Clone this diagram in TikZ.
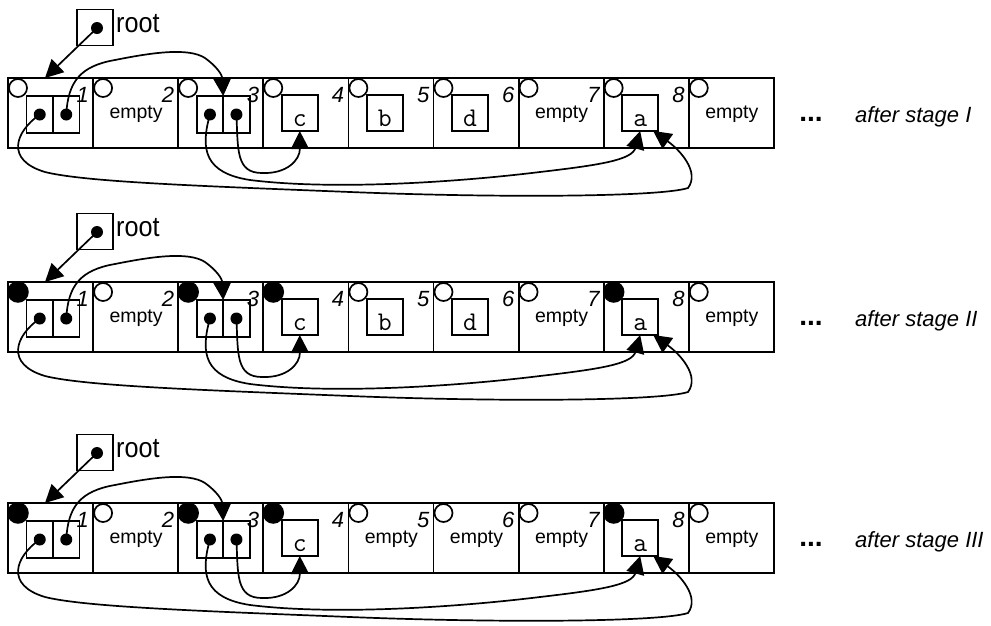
\documentclass[tikz,border=0pt]{standalone}
\usepackage{fontspec}
\usepackage{graphicx}
\setmainfont{Liberation Sans}
\usetikzlibrary{arrows.meta,calc}
\tikzset{
  cellbox/.style={draw, line width=1.8pt, minimum width=85.1pt, minimum height=70pt, inner sep=0pt, outer sep=0pt},
  opencirc/.style={circle, draw, fill=white, line width=1.7pt, minimum size=18pt, inner sep=0pt},
  fullcirc/.style={circle, draw, fill=black, line width=1.5pt, minimum size=20pt, inner sep=0pt},
  halfbox/.style={draw, line width=1.8pt, minimum width=26.5pt, minimum height=37pt, inner sep=0pt, outer sep=0pt},
  valbox/.style={draw, line width=1.8pt, minimum width=36pt, minimum height=36pt, inner sep=0pt, outer sep=0pt},
  valtxt/.style={font=\ttfamily\fontsize{27}{27}\selectfont, anchor=base, inner sep=0pt},
  ptdot/.style={circle, fill=black, minimum size=12pt, inner sep=0pt},
  emptytxt/.style={font=\fontsize{19.5}{19.5}\selectfont, anchor=base, inner sep=0pt},
  numtxt/.style={font=\itshape\fontsize{22}{22}\selectfont, anchor=base east, inner sep=0pt},
  roottxt/.style={font=\fontsize{28}{28}\selectfont, anchor=base west, inner sep=0pt},
  stagetxt/.style={font=\itshape\fontsize{22}{22}\selectfont, anchor=base west, inner sep=0pt},
  dotstxt/.style={font=\bfseries\fontsize{28}{28}\selectfont, anchor=base, inner sep=0pt},
  arr/.style={line width=1.7pt, -{Triangle[length=18pt,width=18pt]}},
}
\newcommand\valcell[2]{%
  \node[valbox] (\rp v#1) at ({8+85.1*(#1-1)+36.5},113) {};
  \node[valtxt] (\rp t#1) at ({8+85.1*(#1-1)+36.5},126) {#2};}
\newcommand\emptycell[1]{%
  \node[emptytxt] (\rp e#1) at ({8+85.1*(#1-1)+43},118) {empty};}
\newcommand\pairbox[1]{%
  \node[halfbox] (\rp p#1l) at ({8+85.1*(#1-1)+18.5+13.25},114.5) {};
  \node[halfbox] (\rp p#1r) at ({8+85.1*(#1-1)+18.5+39.75},114.5) {};
  \node[ptdot] (\rp d#1l) at (\rp p#1l.center) {};
  \node[ptdot] (\rp d#1r) at (\rp p#1r.center) {};}
\newcommand\drawrow[5]{%
\def\rp{#1}%
\begin{scope}[yshift=-#2pt]
  \foreach \i in {1,...,9} {
    \node[cellbox] (#1c\i) at ({8+85.1*(\i-1)+42.55},113) {};
  }
  \foreach \i/\s in {#3} {
    \node[\s] (#1o\i) at ({8+85.1*(\i-1)+10},88) {};
  }
  \foreach \i in {1,...,8} {
    \node[numtxt] (#1n\i) at ({8+85.1*\i-4},102) {\i};
  }
  \pairbox{1}
  \emptycell{2}
  \pairbox{3}
  \valcell{4}{c}
  #4
  \emptycell{7}
  \valcell{8}{a}
  \emptycell{9}
  % root
  \node[valbox] (#1root) at (95,27.5) {};
  \node[ptdot] (#1rd) at (97,28) {};
  \node[roottxt] (#1rt) at (116,32) {\scalebox{0.9}[1]{root}};
  \coordinate (#1rtip) at (45,78);
  \draw[arr] (#1rd.center) -- (#1rtip);
  % pointers
  \draw[arr] (#1d1r.center) .. controls (68,82) and (80,66) .. (115,60)
     .. controls (150,53) and (188,47) .. (205,58)
     .. controls (216,66) and (222,74) .. (#1p3l.north east);
  \draw[arr] (#1d3r.center) .. controls (238,150) and (236,173) .. (262,173)
     .. controls (287,174) and (300,160) .. (#1v4.south);
  \draw[arr] (#1d3l.center) .. controls (200,150) and (205,173) .. (250,180)
     .. controls (330,190) and (450,183) .. (540,172)
     .. controls (600,165) and (632,160) .. (#1v8.south);
  \coordinate (#1atip) at ($(#1v8.south east)+(-5,0)$);
  \draw[arr] (#1d1l.center) .. controls (15,132) and (5,160) .. (45,172)
     .. controls (85,182) and (200,186) .. (350,192)
     .. controls (500,198) and (660,197) .. (688,188)
     .. controls (700,172) and (680,150) .. (#1atip);
  % labels
  \node[dotstxt] (#1dots) at (811,121) {...};
  \node[stagetxt] (#1lab) at (855,122) {after stage #5};
\end{scope}}
\begin{document}
\begin{tikzpicture}[x=1pt,y=-1pt]
\useasboundingbox (0,0) rectangle (991,625);
\drawrow{a}{0}{1/opencirc,2/opencirc,3/opencirc,4/opencirc,5/opencirc,6/opencirc,7/opencirc,8/opencirc,9/opencirc}{\valcell{5}{b}\valcell{6}{d}}{I}
\drawrow{b}{204}{1/fullcirc,2/opencirc,3/fullcirc,4/fullcirc,5/opencirc,6/opencirc,7/opencirc,8/fullcirc,9/opencirc}{\valcell{5}{b}\valcell{6}{d}}{II}
\drawrow{c}{425}{1/fullcirc,2/opencirc,3/fullcirc,4/fullcirc,5/opencirc,6/opencirc,7/opencirc,8/fullcirc,9/opencirc}{\emptycell{5}\emptycell{6}}{III}
\end{tikzpicture}
\end{document}
